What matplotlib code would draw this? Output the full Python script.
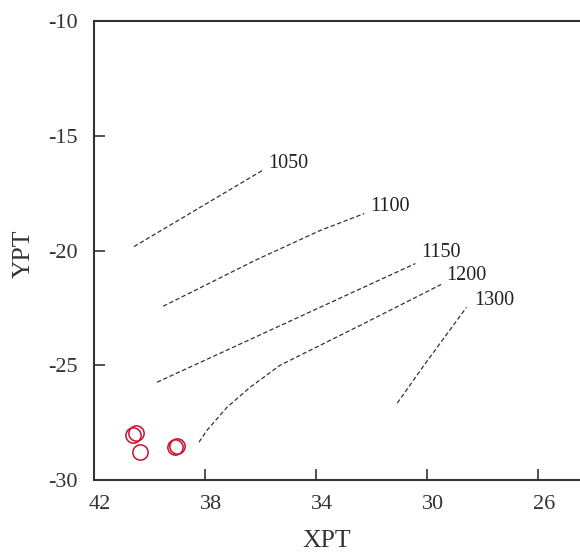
import matplotlib
matplotlib.use("Agg")
import matplotlib.pyplot as plt
import matplotlib.transforms as mtransforms

plt.rcParams['font.family'] = ['Liberation Serif', 'DejaVu Serif']
plt.rcParams['axes.unicode_minus'] = False

# isotherm lines (XPT, YPT)
iso_labels = ["1050", "1100", "1150", "1200", "1300"]
iso_x = [
    [40.56, 35.95],
    [39.51, 36.20, 33.86, 32.27],
    [39.73, 30.43],
    [38.22, 37.93, 37.21, 36.38, 35.30, 32.41, 29.50],
    [31.08, 30.14, 28.59],
]
iso_y = [
    [-19.83, -16.52],
    [-22.43, -20.43, -19.13, -18.39],
    [-25.74, -20.57],
    [-28.35, -27.83, -26.83, -25.96, -25.00, -23.26, -21.48],
    [-26.65, -25.04, -22.48],
]
# label positions
lab_x = [35.72, 32.04, 30.22, 29.32, 28.30]
lab_y = [-16.2, -18.1, -20.1, -21.1, -22.2]

# samples
pt_x = [40.59, 40.49, 40.34, 39.08, 39.01]
pt_y = [-28.04, -27.96, -28.78, -28.57, -28.52]

xticks = [42, 38, 34, 30, 26]
yticks = [-30, -25, -20, -15, -10]

fig = plt.figure(figsize=(5.8, 5.52), dpi=100)
ax = fig.add_axes([94/580, 72/552, 1 - 94/580, 459/552])
dark = '#333333'

for xs, ys in zip(iso_x, iso_y):
    ax.plot(xs, ys, linestyle=(0, (3.5, 2)), color=dark, lw=0.9)
for t, x, y in zip(iso_labels, lab_x, lab_y):
    ax.text(x, y, t, fontsize=14.5, color='#222222', ha='left', va='center')

ax.plot(pt_x, pt_y, linestyle='none', marker='o', markersize=11,
        markerfacecolor='none', markeredgecolor='#c8102e', markeredgewidth=1.1)

ax.set_xlim(42, 24.5)
ax.set_ylim(-30, -10)
ax.set_xticks(xticks)
ax.set_yticks(yticks)
ax.tick_params(direction='in', length=8, width=1.2, colors=dark, labelsize=16)
ax.tick_params(axis='x', pad=11)
ax.tick_params(axis='y', pad=12)
offset = mtransforms.ScaledTranslation(6/100, 0, fig.dpi_scale_trans)
for lbl in ax.get_xticklabels():
    lbl.set_transform(lbl.get_transform() + offset)
for s in ['left', 'top', 'bottom']:
    ax.spines[s].set_linewidth(1.5)
    ax.spines[s].set_color(dark)
ax.spines['right'].set_visible(False)

ax.set_xlabel('XPT', fontsize=18.5, color=dark)
ax.set_ylabel('YPT', fontsize=18.5, color=dark)
ax.xaxis.set_label_coords((327 - 94) / 486, -(541 - 480) / 459)
ax.yaxis.set_label_coords(-(94 - 24) / 486, (480 - 254) / 459)
ax.xaxis.label.set_va('center')
ax.yaxis.label.set_va('center')

fig.savefig('out.png', dpi=100)
